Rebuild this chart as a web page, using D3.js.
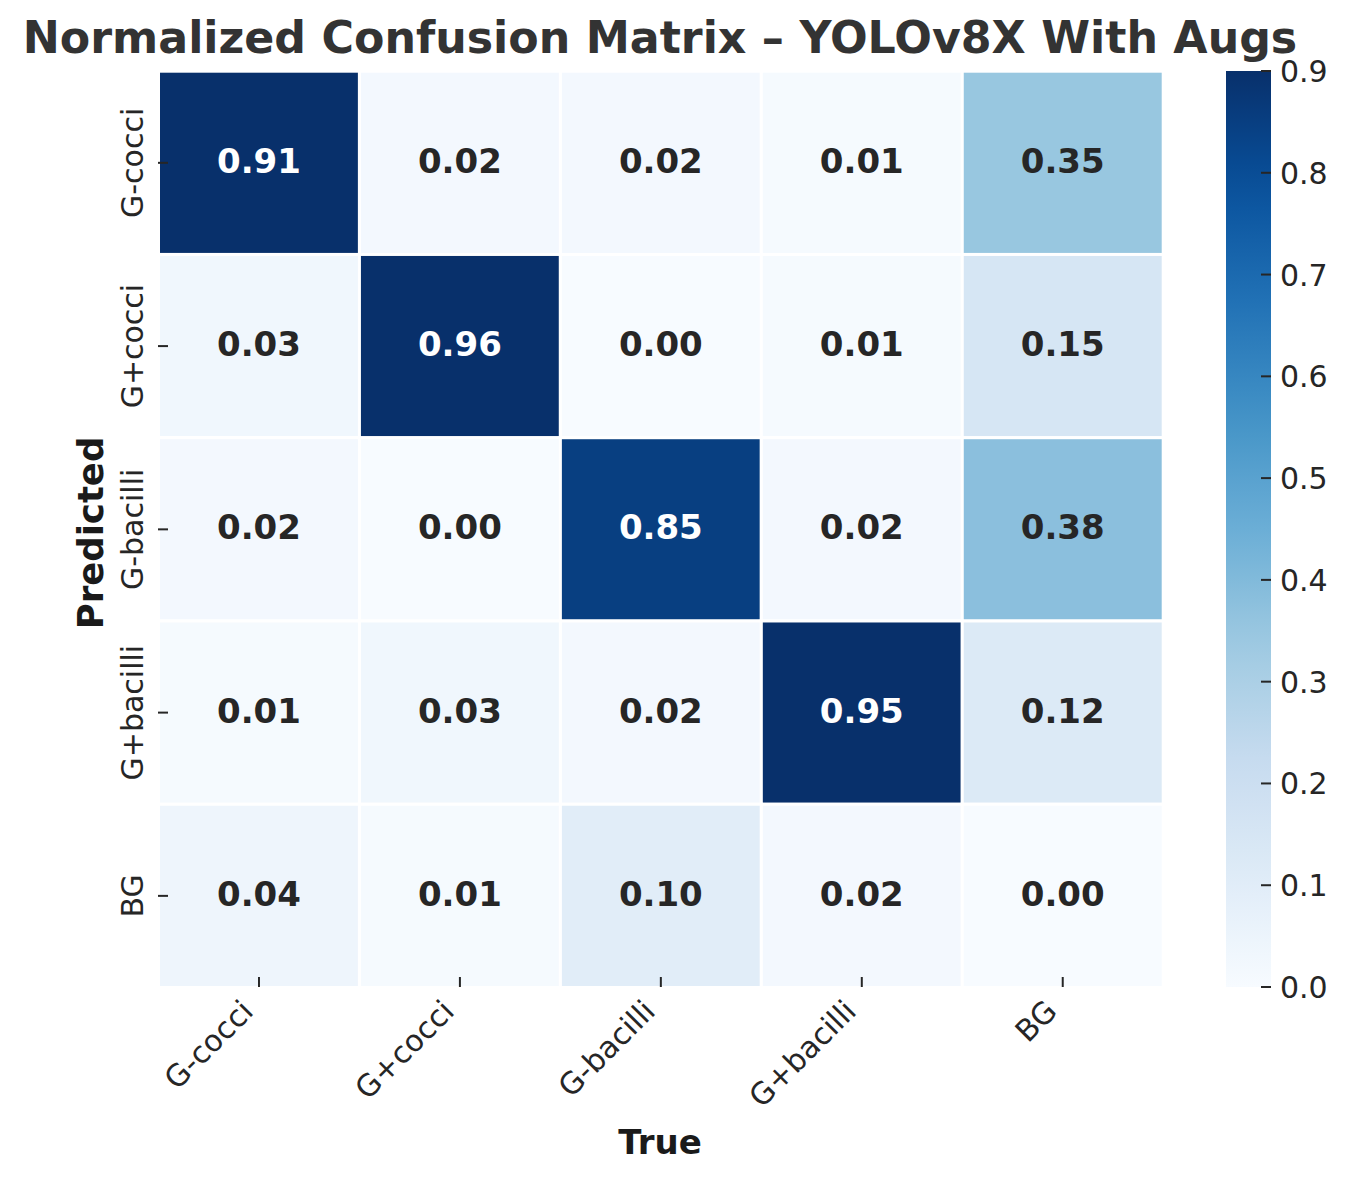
<!DOCTYPE html>
<html>
<head>
  <meta charset="utf-8">
  <script src="https://cdn.jsdelivr.net/npm/d3@7"></script>
  <style>
    body { margin: 0; background: #fff; }
    text { font-family: "DejaVu Sans", sans-serif; }
  </style>
</head>
<body>
  <div id="chart"></div>
  <script type="text/javascript">
    "use strict";

    // class labels (rows = predicted, columns = true)
    var classes = ["G-cocci", "G+cocci", "G-bacilli", "G+bacilli", "BG"];

    // normalized values, one array per predicted row
    var rowGcocci   = [0.91, 0.02, 0.02, 0.01, 0.35];
    var rowGpcocci  = [0.03, 0.96, 0.00, 0.01, 0.15];
    var rowGbacilli = [0.02, 0.00, 0.85, 0.02, 0.38];
    var rowGpbacilli = [0.01, 0.03, 0.02, 0.95, 0.12];
    var rowBG       = [0.04, 0.01, 0.10, 0.02, 0.00];

    var colorbarTicks = [0.0, 0.1, 0.2, 0.3, 0.4, 0.5, 0.6, 0.7, 0.8, 0.9];

    var matrix = [rowGcocci, rowGpcocci, rowGbacilli, rowGpbacilli, rowBG];

    var width = 1354, height = 1180;

    var svg = d3.select("#chart")
      .append("svg")
        .attr("width", width)
        .attr("height", height);

    // heatmap area
    var x = d3.scaleBand().domain(classes).range([158.5, 1163.2]);
    var y = d3.scaleBand().domain(classes).range([71.2, 987.5]);

    // matplotlib "Blues"
    var bluesStops = ["#f7fbff", "#deebf7", "#c6dbef", "#9ecae1", "#6baed6",
                      "#4292c6", "#2171b5", "#08519c", "#08306b"];
    var vmax = 0.9;
    var color = d3.scaleLinear()
      .domain(d3.range(bluesStops.length).map(function(i) { return i / (bluesStops.length - 1) * vmax; }))
      .range(bluesStops)
      .clamp(true);

    var cells = [];
    matrix.forEach(function(row, i) {
      row.forEach(function(v, j) {
        cells.push({pred: classes[i], truth: classes[j], value: v});
      });
    });

    function textColor(v) {
      var c = d3.rgb(color(v));
      var lin = [c.r, c.g, c.b].map(function(u) {
        u = u / 255;
        return u <= 0.03928 ? u / 12.92 : Math.pow((u + 0.055) / 1.055, 2.4);
      });
      var lum = 0.2126 * lin[0] + 0.7152 * lin[1] + 0.0722 * lin[2];
      return lum > 0.408 ? "#262626" : "#ffffff";
    }

    var g = svg.append("g");

    g.selectAll("rect.cell")
      .data(cells)
      .enter().append("rect")
        .attr("class", "cell")
        .attr("x", function(d) { return x(d.truth); })
        .attr("y", function(d) { return y(d.pred); })
        .attr("width", x.bandwidth())
        .attr("height", y.bandwidth())
        .attr("fill", function(d) { return color(d.value); })
        .attr("stroke", "#fff")
        .attr("stroke-width", 3);

    g.selectAll("text.annot")
      .data(cells)
      .enter().append("text")
        .attr("class", "annot")
        .attr("x", function(d) { return x(d.truth) + x.bandwidth() / 2; })
        .attr("y", function(d) { return y(d.pred) + y.bandwidth() / 2 + 10; })
        .attr("text-anchor", "middle")
        .attr("font-size", 34)
        .attr("font-weight", "bold")
        .attr("fill", function(d) { return textColor(d.value); })
        .text(function(d) { return d.value.toFixed(2); });

    // ticks (drawn inward, like the original)
    var tickColor = "#262626";
    g.selectAll("line.xtick")
      .data(classes)
      .enter().append("line")
        .attr("x1", function(d) { return x(d) + x.bandwidth() / 2; })
        .attr("x2", function(d) { return x(d) + x.bandwidth() / 2; })
        .attr("y1", 977).attr("y2", 987)
        .attr("stroke", tickColor).attr("stroke-width", 2);

    g.selectAll("line.ytick")
      .data(classes)
      .enter().append("line")
        .attr("y1", function(d) { return y(d) + y.bandwidth() / 2; })
        .attr("y2", function(d) { return y(d) + y.bandwidth() / 2; })
        .attr("x1", 158).attr("x2", 168)
        .attr("stroke", tickColor).attr("stroke-width", 2);

    g.selectAll("text.xlab")
      .data(classes)
      .enter().append("text")
        .attr("transform", function(d) {
          return "translate(" + (x(d) + x.bandwidth() / 2 - 4) + ",1013) rotate(-45)";
        })
        .attr("text-anchor", "end")
        .attr("font-size", 30)
        .attr("fill", tickColor)
        .text(function(d) { return d; });

    g.selectAll("text.ylab")
      .data(classes)
      .enter().append("text")
        .attr("transform", function(d) {
          return "translate(143," + (y(d) + y.bandwidth() / 2) + ") rotate(-90)";
        })
        .attr("text-anchor", "middle")
        .attr("font-size", 30)
        .attr("fill", tickColor)
        .text(function(d) { return d; });

    // axis titles
    svg.append("text")
      .attr("x", 660).attr("y", 1154)
      .attr("text-anchor", "middle")
      .attr("font-size", 34).attr("font-weight", "bold")
      .attr("fill", "#1a1a1a")
      .text("True");

    svg.append("text")
      .attr("transform", "translate(103,533) rotate(-90)")
      .attr("text-anchor", "middle")
      .attr("font-size", 35.5).attr("font-weight", "bold")
      .attr("fill", "#1a1a1a")
      .text("Predicted");

    svg.append("text")
      .attr("x", 660).attr("y", 53)
      .attr("text-anchor", "middle")
      .attr("font-size", 44.3).attr("font-weight", "bold")
      .attr("fill", "#333333")
      .text("Normalized Confusion Matrix \u2013 YOLOv8X With Augs");

    // colorbar
    var cbX = 1226, cbW = 45;
    var cbScale = d3.scaleLinear().domain([0, vmax]).range([987, 71]);

    var grad = svg.append("defs").append("linearGradient")
      .attr("id", "cbgrad")
      .attr("x1", 0).attr("y1", 1).attr("x2", 0).attr("y2", 0);
    grad.selectAll("stop")
      .data(d3.range(0, 1.0001, 0.05))
      .enter().append("stop")
        .attr("offset", function(d) { return d; })
        .attr("stop-color", function(d) { return color(d * vmax); });

    svg.append("rect")
      .attr("x", cbX).attr("y", cbScale(vmax))
      .attr("width", cbW).attr("height", cbScale(0) - cbScale(vmax))
      .attr("fill", "url(#cbgrad)");

    var cbAxis = svg.append("g");
    cbAxis.selectAll("line")
      .data(colorbarTicks)
      .enter().append("line")
        .attr("x1", cbX + cbW - 10).attr("x2", cbX + cbW)
        .attr("y1", function(d) { return cbScale(d); })
        .attr("y2", function(d) { return cbScale(d); })
        .attr("stroke", tickColor).attr("stroke-width", 2);
    cbAxis.selectAll("text")
      .data(colorbarTicks)
      .enter().append("text")
        .attr("x", 1280)
        .attr("y", function(d) { return cbScale(d) + 11; })
        .attr("font-size", 30)
        .attr("fill", tickColor)
        .text(function(d) { return d.toFixed(1); });
  </script>
</body>
</html>
